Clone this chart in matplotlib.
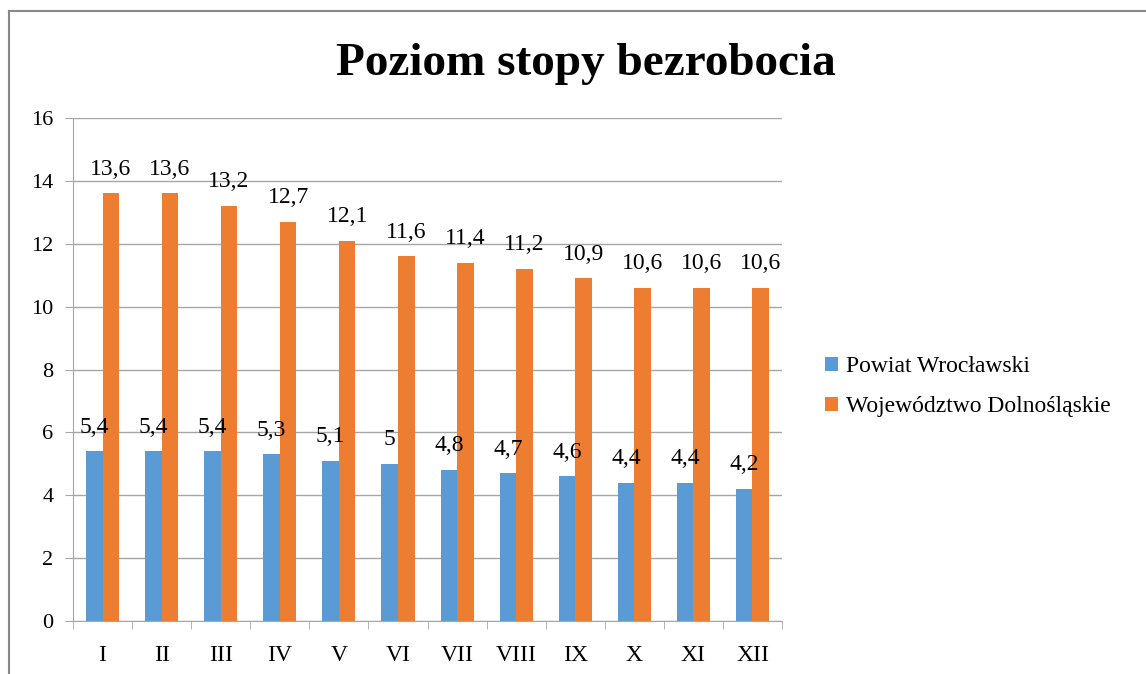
import numpy as np
import matplotlib.pyplot as plt
from matplotlib.lines import Line2D

months = ["I", "II", "III", "IV", "V", "VI", "VII", "VIII", "IX", "X", "XI", "XII"]
powiat = [5.4, 5.4, 5.4, 5.3, 5.1, 5.0, 4.8, 4.7, 4.6, 4.4, 4.4, 4.2]
wojewodztwo = [13.6, 13.6, 13.2, 12.7, 12.1, 11.6, 11.4, 11.2, 10.9, 10.6, 10.6, 10.6]
series_names = ["Powiat Wrocławski", "Województwo Dolnośląskie"]

plt.rcParams['font.family'] = ['Liberation Serif', 'DejaVu Serif']
blue = '#5B9BD5'
orange = '#ED7D31'
grid_col = '#A6A6A6'

fig = plt.figure(figsize=(11.46, 6.74), dpi=100)
ax = fig.add_axes([0.0637, 0.0786, 0.6187, 0.7463])

x = np.arange(len(months))
w = 0.28
b1 = ax.bar(x - w / 2, powiat, w, color=blue, label=series_names[0])
b2 = ax.bar(x + w / 2, wojewodztwo, w, color=orange, label=series_names[1])

def fmt(v):
    return ("%g" % v).replace(".", ",")

for bars, vals in [(b1, powiat), (b2, wojewodztwo)]:
    for r, v in zip(bars, vals):
        ax.annotate(fmt(v), (r.get_x() + r.get_width() / 2, v), xytext=(0, 13.5),
                    textcoords='offset points', ha='center', va='baseline', fontsize=17)

ax.set_xlim(-0.5, len(months) - 0.5)
ax.set_ylim(0, 16)
ax.set_yticks(range(0, 17, 2))
ax.set_xticks(x)
ax.set_xticklabels(months)
ax.set_xticks(np.arange(-0.5, len(months), 1), minor=True)
ax.tick_params(axis='x', which='major', length=0, pad=17, labelsize=17)
ax.tick_params(axis='x', which='minor', length=6, color=grid_col, direction='out')
ax.tick_params(axis='y', length=6, color=grid_col, pad=8, labelsize=16)
ax.yaxis.grid(True, color=grid_col, linewidth=1)
ax.set_axisbelow(True)
for s in ['top', 'right']:
    ax.spines[s].set_visible(False)
for s in ['left', 'bottom']:
    ax.spines[s].set_color(grid_col)

fig.text(0.511, 0.905, "Poziom stopy bezrobocia", ha='center', va='center',
         fontsize=34, fontweight='bold')

fig.legend(handles=[b1, b2], loc='center left', bbox_to_anchor=(0.72, 0.426),
           frameon=False, fontsize=17, handlelength=0.55, handleheight=0.55,
           handletextpad=0.35, labelspacing=0.8, borderpad=0, borderaxespad=0)

# chart border (cropped at right and bottom)
fig.add_artist(Line2D([9 / 1146, 1], [1 - 11 / 674, 1 - 11 / 674], color='#888888', lw=1.5))
fig.add_artist(Line2D([9 / 1146, 9 / 1146], [0, 1 - 11 / 674], color='#888888', lw=1.5))

fig.savefig("out.png", dpi=100)
